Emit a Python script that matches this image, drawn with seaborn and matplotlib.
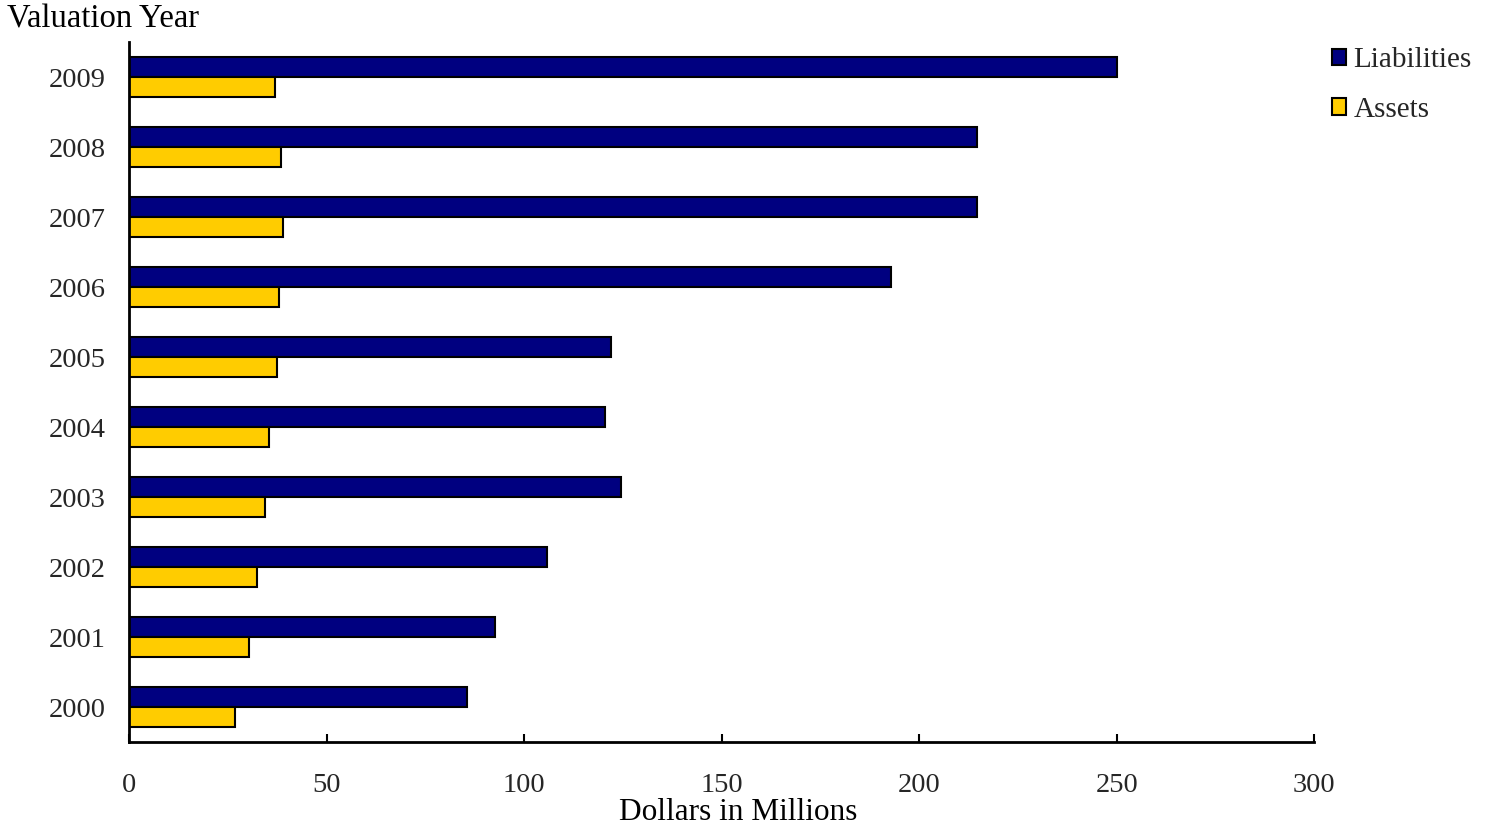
import matplotlib
matplotlib.use("Agg")
import matplotlib.pyplot as plt
import seaborn as sns
import pandas as pd

# ─── Datos ────────────────────────────────────────────────────────────────────
anios = ["2009", "2008", "2007", "2006", "2005", "2004", "2003", "2002", "2001", "2000"]
pasivos = [250.0, 214.7, 214.7, 192.9, 122.0, 120.5, 124.6, 105.8, 92.7, 85.6]
activos = [37.0, 38.5, 39.0, 38.0, 37.5, 35.4, 34.4, 32.4, 30.4, 26.8]
series = ["Liabilities", "Assets"]
colores = ["#000080", "#FFCC00"]

df = pd.DataFrame({
    "anio": anios * 2,
    "valor": pasivos + activos,
    "serie": [series[0]] * len(anios) + [series[1]] * len(anios),
})

sns.set_theme(style="white")
plt.rcParams["font.family"] = ["Liberation Serif", "DejaVu Serif"]

fig = plt.figure(figsize=(14.85, 8.25), dpi=100)
ax = fig.add_axes([0.0869, 0.1006, 0.7981, 0.8484])

sns.barplot(data=df, x="valor", y="anio", hue="serie", order=anios,
            hue_order=series, palette=colores, orient="h", width=0.58,
            edgecolor="black", linewidth=1.5, saturation=1, ax=ax)

ax.set_xlim(0, 300)
ax.set_ylim(9.5, -0.5)
ax.set_xticks([0, 50, 100, 150, 200, 250, 300])

for lado in ["top", "right"]:
    ax.spines[lado].set_visible(False)
for lado in ["left", "bottom"]:
    ax.spines[lado].set_color("black")
    ax.spines[lado].set_linewidth(2)

ax.tick_params(axis="x", direction="in", length=6, width=1.5, color="black",
               pad=22, labelsize=20.5, bottom=True)
ax.tick_params(axis="y", length=0, pad=17, labelsize=20.5)

ax.set_xlabel("Dollars in Millions", fontsize=22.5, color="black")
ax.xaxis.set_label_coords(0.514, -0.08)
ax.set_ylabel("Valuation Year", fontsize=23.5, rotation=0, color="black",
              ha="left", va="center")
ax.yaxis.set_label_coords(-0.103, 1.032)

ax.legend(title=None, loc="upper left", bbox_to_anchor=(0.9925, 1.03),
          frameon=False, fontsize=21, handlelength=0.5, handleheight=0.5,
          handletextpad=0.25, labelspacing=0.8)

fig.savefig("out.png", dpi=100)
